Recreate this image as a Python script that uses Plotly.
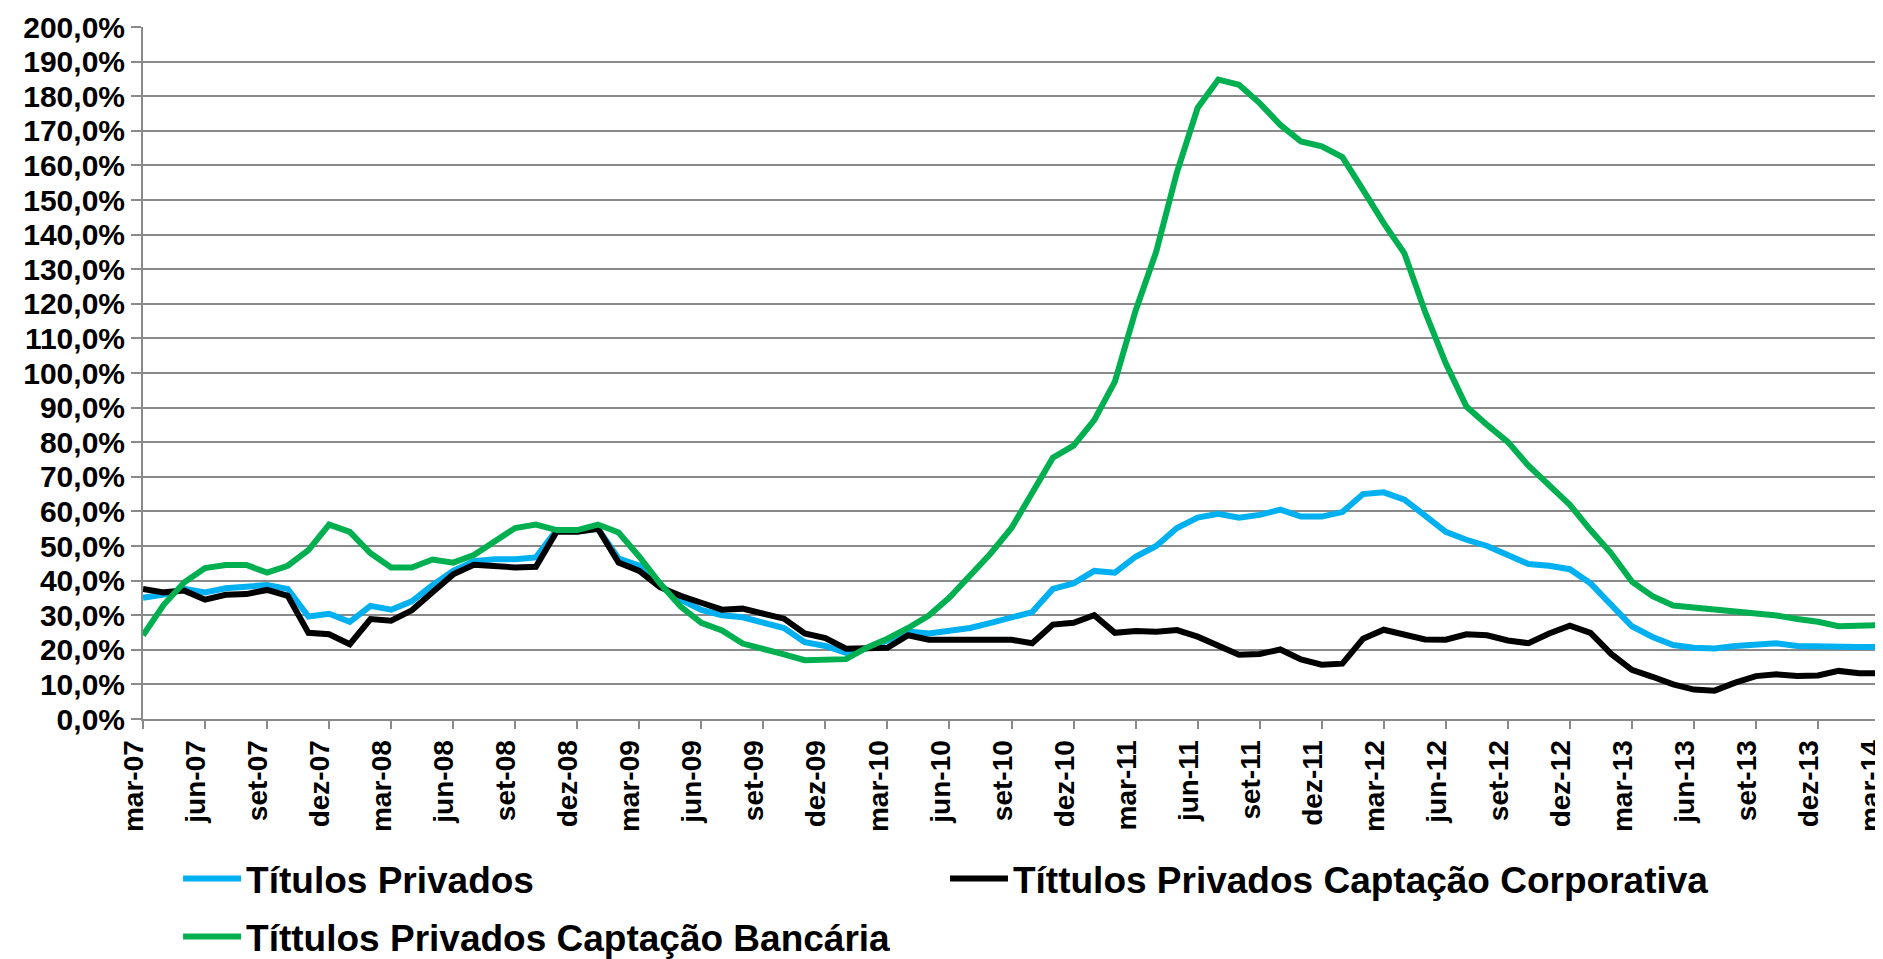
import plotly.graph_objects as go

MESES = ["jan", "fev", "mar", "abr", "mai", "jun", "jul", "ago", "set", "out", "nov", "dez"]
meses = []
ano, m = 7, 2
while True:
    meses.append(f"{MESES[m]}-{ano:02d}")
    if ano == 14 and m == 2:
        break
    m += 1
    if m == 12:
        m = 0
        ano += 1

titulos_privados = [
    35.0, 36.0, 37.6, 36.6, 37.8, 38.1, 38.7, 37.6, 29.6, 30.4, 28.1, 32.7, 31.6, 34.0, 38.7, 42.8,
    45.6, 46.2, 46.2, 46.7, 54.6, 54.3, 55.0, 46.4, 44.3, 38.7, 34.5, 31.5, 30.0, 29.4, 27.8, 26.3,
    22.2, 21.1, 19.1, 20.4, 22.7, 25.3, 24.7, 25.3, 26.3, 27.8, 29.4, 30.9, 37.6, 39.2, 42.8, 42.3,
    46.9, 50.0, 55.2, 58.2, 59.3, 58.2, 59.0, 60.5, 58.5, 58.5, 59.8, 65.0, 65.5, 63.4, 58.8, 54.1,
    51.8, 50.0, 47.4, 44.8, 44.3, 43.3, 39.2, 33.0, 26.8, 23.7, 21.4, 20.6, 20.4, 21.1, 21.6, 21.9,
    21.1, 20.9, 21.1, 20.8, 20.8,
]

captacao_corporativa = [
    37.6, 36.6, 37.1, 34.5, 35.9, 36.1, 37.3, 35.6, 24.9, 24.5, 21.6, 28.9, 28.4, 31.4, 36.6, 41.8,
    44.6, 44.3, 43.8, 44.0, 54.1, 54.1, 55.0, 45.2, 42.8, 38.1, 35.6, 33.6, 31.6, 31.9, 30.3, 29.0,
    24.7, 23.4, 20.3, 20.6, 20.6, 24.2, 22.9, 22.9, 22.9, 22.9, 22.9, 21.9, 27.3, 27.8, 30.0, 24.9,
    25.4, 25.2, 25.7, 23.8, 21.2, 18.6, 18.8, 20.1, 17.2, 15.7, 16.0, 23.2, 25.8, 24.5, 23.0, 22.9,
    24.5, 24.2, 22.7, 21.9, 24.7, 27.0, 24.9, 18.8, 14.2, 12.2, 10.0, 8.5, 8.2, 10.5, 12.4, 12.9,
    12.4, 12.6, 13.9, 13.2, 13.2,
]

captacao_bancaria = [
    24.2, 33.0, 39.5, 43.6, 44.5, 44.5, 42.3, 44.3, 48.8, 56.2, 54.1, 47.9, 43.8, 43.8, 46.1, 45.2,
    47.4, 51.5, 55.2, 56.2, 54.6, 54.6, 56.2, 53.9, 46.9, 39.2, 32.5, 27.8, 25.6, 21.8, 20.4, 18.7,
    17.0, 17.2, 17.3, 20.6, 23.2, 26.3, 29.9, 35.1, 41.2, 47.9, 55.2, 65.5, 75.5, 79.0, 86.4, 97.5,
    118.0, 135.1, 158.0, 176.6, 184.8, 183.3, 178.0, 171.7, 166.9, 165.5, 162.4, 152.9, 143.3, 134.6,
    117.7, 102.8, 90.3, 85.0, 80.1, 73.2, 67.5, 61.9, 54.6, 47.9, 39.7, 35.5, 32.8, 32.2, 32.0, 31.1,
    30.4, 29.9, 28.9, 28.1, 26.8, 26.8, 27.1,
]

nomes = [
    "Títulos Privados",
    "Títtulos Privados Captação Corporativa",
    "Títtulos Privados Captação Bancária",
]
cores = ["#00B0F0", "#000000", "#00B050"]

y_ticks = list(range(0, 201, 10))
y_labels = [f"{v},0%" for v in y_ticks]
x_ticks = meses[::3]

FONT = "Liberation Sans, Arial, sans-serif"
GRID = "#8A8A8A"

fig = go.Figure()
series = [titulos_privados, captacao_corporativa, captacao_bancaria]
legends = ["legend", "legend2", "legend3"]
for nome, vals, cor, lg in zip(nomes, series, cores, legends):
    fig.add_trace(go.Scatter(
        x=meses, y=vals, name=nome, mode="lines",
        line=dict(color=cor, width=6),
        legend=lg,
    ))

leg_common = dict(
    xanchor="left", yanchor="middle",
    font=dict(family=FONT, size=37, color="#000000", weight=700),
    bgcolor="rgba(0,0,0,0)", borderwidth=0, itemwidth=58,
)

fig.update_layout(
    width=1883, height=959,
    margin=dict(l=135, r=11, t=19, b=248, autoexpand=False),
    paper_bgcolor="white", plot_bgcolor="white",
    showlegend=True,
    legend=dict(x=0.0202, y=-0.2312, **leg_common),
    legend2=dict(x=0.4617, y=-0.2312, **leg_common),
    legend3=dict(x=0.0202, y=-0.315, **leg_common),
    xaxis=dict(
        type="category", range=[0, len(meses) - 1],
        tickmode="array", tickvals=x_ticks, ticktext=x_ticks,
        tickangle=-90, ticks="outside", ticklen=8, tickcolor=GRID, tickwidth=2,
        showgrid=False, showline=True, linecolor=GRID, linewidth=2,
        tickfont=dict(family=FONT, size=28, color="#000000", weight=700),
        ticklabeloverflow="allow", ticklabelshift=-9,
        zeroline=False, automargin=False,
    ),
    yaxis=dict(
        range=[0, 200], tickmode="array", tickvals=y_ticks, ticktext=y_labels,
        ticks="outside", ticklen=10, tickcolor=GRID, tickwidth=2,
        showgrid=True, gridcolor=GRID, gridwidth=2,
        showline=True, linecolor=GRID, linewidth=2,
        tickfont=dict(family=FONT, size=30, color="#000000", weight=700),
        ticklabeloverflow="allow",
        zeroline=False, automargin=False,
    ),
)

fig.write_html("out.html")
